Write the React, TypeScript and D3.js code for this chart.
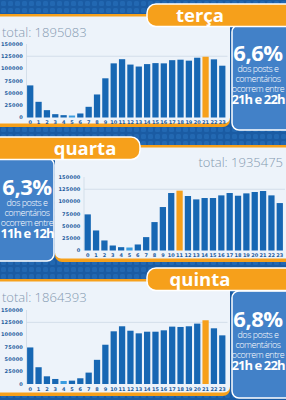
import * as d3 from 'd3';
import React, { useEffect, useRef } from 'react';

const hours = ['0', '1', '2', '3', '4', '5', '6', '7', '8', '9', '10', '11', '12', '13', '14', '15', '16', '17', '18', '19', '20', '21', '22', '23'];
const yTicks = [0, 25000, 50000, 75000, 100000, 125000, 150000];

const tercaValues = [65500, 32000, 15000, 6800, 4800, 4000, 8200, 21800, 47000, 80000, 110500, 119000, 108000, 104000, 109000, 111000, 110500, 117000, 118000, 116000, 122000, 124000, 118700, 105700];
const quartaValues = [73700, 40900, 20500, 10200, 6800, 6100, 12300, 27300, 58000, 88700, 117300, 122100, 111200, 104300, 107100, 107100, 112500, 117300, 111800, 116600, 119400, 121400, 112500, 96800];
const quintaValues = [74100, 34000, 15600, 10200, 6100, 6800, 11600, 23100, 49000, 79600, 106800, 117000, 108000, 102700, 106000, 106000, 108800, 116300, 115600, 117000, 122400, 129200, 112900, 98600];

const dayNames = ['terça', 'quarta', 'quinta'];
const totals = ['total: 1895083', 'total: 1935475', 'total: 1864393'];
const percents = ['6,6%', '6,3%', '6,8%'];
const peakHours = ['21h e 22h', '11h e 12h', '21h e 22h'];
const peakIndex = [21, 11, 21];
const lowIndex = [5, 5, 4];
const captionLines = ['dos posts e', 'comentários', 'ocorrem entre'];

const BG = '#1a5ba3';
const ORANGE = '#f6a01b';
const PANEL = '#edf3fa';
const BAR = '#1767b3';
const LOW = '#3a9de0';
const BOX = '#4281c8';
const AXIS_TEXT = '#1f5d9e';
const TOTAL_TEXT = '#8499b0';
const FONT = "'Open Sans', sans-serif";

// layout of each block (chart left + box right, or box left + chart right)
const panels = [
  { values: tercaValues, chartLeft: true, top: 14, bottom: 127, zero: 117.5, ceil: 44, tab: 4, boxTop: 25, boxBottom: 130, total: 37, pct: 61 },
  { values: quartaValues, chartLeft: false, top: 145, bottom: 262, zero: 250.5, ceil: 177, tab: 137, boxTop: 158, boxBottom: 261, total: 167, pct: 195 },
  { values: quintaValues, chartLeft: true, top: 279, bottom: 396, zero: 384, ceil: 310, tab: 268, boxTop: 291, boxBottom: 398, total: 302, pct: 327 },
];

const App = () => {
  const svgRef = useRef(null);

  const renderSvg = () => {
    const svg = d3.select(svgRef.current);
    svg.selectAll('*').remove();

    const defs = svg.append('defs');
    const pat = defs
      .append('pattern')
      .attr('id', 'tiles')
      .attr('width', 7)
      .attr('height', 7)
      .attr('patternUnits', 'userSpaceOnUse');
    pat.append('rect').attr('width', 7).attr('height', 7).attr('fill', BG);
    pat
      .append('rect')
      .attr('x', 1)
      .attr('y', 1)
      .attr('width', 5)
      .attr('height', 5)
      .attr('rx', 1.5)
      .attr('fill', '#2268b2');

    svg.append('rect').attr('width', 286).attr('height', 400).attr('fill', 'url(#tiles)');

    panels.forEach((p, i) => {
      const g = svg.append('g');
      const px = p.chartLeft ? -10 : 55;
      const pw = p.chartLeft ? 240 : 250;

      // panel with orange edges
      g.append('rect')
        .attr('x', px)
        .attr('y', p.top)
        .attr('width', pw)
        .attr('height', p.bottom - p.top)
        .attr('rx', 7)
        .attr('fill', ORANGE);
      g.append('rect')
        .attr('x', px)
        .attr('y', p.top + 2.5)
        .attr('width', pw)
        .attr('height', p.bottom - p.top - 6)
        .attr('rx', 6)
        .attr('fill', PANEL);

      // side box
      const bx = p.chartLeft ? 232 : -10;
      g.append('rect')
        .attr('x', bx)
        .attr('y', p.boxTop)
        .attr('width', 64)
        .attr('height', p.boxBottom - p.boxTop)
        .attr('rx', 7)
        .attr('fill', BOX)
        .attr('stroke', '#ffffff')
        .attr('stroke-width', 1.5);

      // day tab
      g.append('rect')
        .attr('x', p.chartLeft ? 147 : -10)
        .attr('y', p.tab)
        .attr('width', 150)
        .attr('height', 22.5)
        .attr('rx', 9)
        .attr('fill', ORANGE)
        .attr('stroke', '#ffffff')
        .attr('stroke-width', 1.5);
      g.append('text')
        .attr('x', p.chartLeft ? 200 : 85)
        .attr('y', p.tab + 17.5)
        .attr('text-anchor', 'middle')
        .attr('font-family', FONT)
        .attr('font-weight', 700)
        .attr('font-size', 18.5)
        .attr('fill', '#ffffff')
        .text(dayNames[i]);

      // total
      g.append('text')
        .attr('x', p.chartLeft ? 2 : 283)
        .attr('y', p.total)
        .attr('text-anchor', p.chartLeft ? 'start' : 'end')
        .attr('font-family', FONT)
        .attr('font-weight', 300)
        .attr('font-size', 13)
        .attr('fill', TOTAL_TEXT)
        .text(totals[i]);

      // box texts
      const cx = p.chartLeft ? 258 : 27;
      g.append('text')
        .attr('x', cx)
        .attr('y', p.pct)
        .attr('text-anchor', 'middle')
        .attr('font-family', FONT)
        .attr('font-weight', 700)
        .attr('font-size', 22)
        .attr('letter-spacing', -0.5)
        .attr('fill', '#ffffff')
        .text(percents[i]);
      captionLines.forEach((line, k) => {
        g.append('text')
          .attr('x', cx)
          .attr('y', p.pct + 10.5 + k * 10)
          .attr('text-anchor', 'middle')
          .attr('font-family', FONT)
          .attr('font-weight', 300)
          .attr('font-size', 9)
          .attr('letter-spacing', -0.5)
          .attr('fill', '#ffffff')
          .text(line);
      });
      g.append('text')
        .attr('x', cx)
        .attr('y', p.pct + 43)
        .attr('text-anchor', 'middle')
        .attr('font-family', FONT)
        .attr('font-weight', 700)
        .attr('font-size', 13)
        .attr('letter-spacing', -0.9)
        .attr('fill', '#ffffff')
        .text(peakHours[i]);

      // chart
      const x0 = p.chartLeft ? 25 : 82.5;
      const xScale = d3
        .scaleBand()
        .domain(hours)
        .range([x0, x0 + 202.5])
        .padding(0.25);
      const yScale = d3.scaleLinear().domain([0, 150000]).range([p.zero, p.ceil]);

      g.append('line')
        .attr('x1', x0 + 1.5)
        .attr('x2', x0 + 202.5)
        .attr('y1', yScale(125000))
        .attr('y2', yScale(125000))
        .attr('stroke', '#d3deea')
        .attr('stroke-width', 1);
      g.append('line')
        .attr('x1', x0 + 1.5)
        .attr('x2', x0 + 1.5)
        .attr('y1', yScale(150000))
        .attr('y2', yScale(0))
        .attr('stroke', '#cdd9e6')
        .attr('stroke-width', 0.8);

      g.append('g')
        .selectAll('text')
        .data(yTicks)
        .enter()
        .append('text')
        .attr('x', x0 - 2)
        .attr('y', (d) => yScale(d))
        .attr('dy', '0.35em')
        .attr('text-anchor', 'end')
        .attr('font-family', 'DejaVu Sans, sans-serif')
        .attr('font-weight', 700)
        .attr('font-size', 5)
        .attr('letter-spacing', 0.2)
        .attr('fill', AXIS_TEXT)
        .text((d) => d);

      g.append('g')
        .selectAll('rect')
        .data(p.values)
        .enter()
        .append('rect')
        .attr('x', (d, j) => xScale(hours[j]))
        .attr('y', (d) => yScale(d))
        .attr('width', xScale.bandwidth())
        .attr('height', (d) => yScale(0) - yScale(d))
        .attr('fill', (d, j) => (j === peakIndex[i] ? ORANGE : j === lowIndex[i] ? LOW : BAR));

      g.append('g')
        .selectAll('text')
        .data(hours)
        .enter()
        .append('text')
        .attr('x', (d) => xScale(d) + xScale.bandwidth() / 2)
        .attr('y', yScale(0) + 6.5)
        .attr('text-anchor', 'middle')
        .attr('font-family', 'DejaVu Sans, sans-serif')
        .attr('font-weight', 700)
        .attr('font-size', 5)
        .attr('fill', AXIS_TEXT)
        .text((d) => d);
    });
  };

  useEffect(() => {
    renderSvg();
  }, []);

  return (
    <svg
      ref={svgRef}
      width={286}
      height={400}
      style={{ position: 'absolute', left: 0, top: 0 }}
    />
  );
};

export default App;
